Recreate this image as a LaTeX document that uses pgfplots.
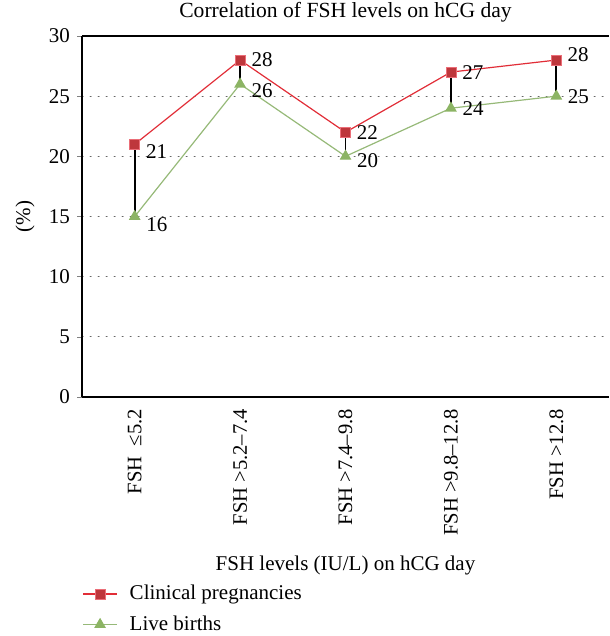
\documentclass[border=0pt]{standalone}
\usepackage{fontspec}
\setmainfont{Liberation Serif}
\usepackage{pgfplots}
\pgfplotsset{compat=1.18}
\usepackage{pgfplotstable}

\definecolor{cpline}{RGB}{225,45,55}
\definecolor{cpfill}{RGB}{190,55,60}
\definecolor{cpedge}{RGB}{235,110,120}
\definecolor{lbline}{RGB}{150,185,120}
\definecolor{lbfill}{RGB}{140,180,100}

\pgfplotstableread{
x y lab dy
0 21 21 -3.5
1 28 28 0
2 22 22 0
3 27 27 0
4 28 28 2.5
}\cp
\pgfplotstableread{
x y lab dy
0 15 16 -4
1 26 26 -3.5
2 20 20 -2
3 24 24 0
4 25 25 0
}\lb

\pgfplotsset{
  lbl/.style={
    nodes near coords,
    point meta=explicit symbolic,
    visualization depends on={\thisrow{dy} \as \dy},
    every node near coord/.append style={anchor=west, inner sep=0pt, xshift=5.5pt, yshift=\dy pt, font=\fontsize{10.5}{12}\selectfont, text=black},
  }
}

\begin{document}
\begin{tikzpicture}
\begin{axis}[
  name=ax,
  scale only axis, width=263.5pt, height=180.5pt,
  xmin=-0.5, xmax=4.5, ymin=0, ymax=30,
  ytick={0,5,...,30},
  xtick={0,...,4},
  xticklabels={FSH\ \ ≤5.2, FSH >5.2–7.4, FSH >7.4–9.8, FSH >9.8–12.8, FSH >12.8},
  x tick label style={rotate=90, anchor=east, font=\fontsize{10.3}{12}\selectfont},
  major x tick style={draw=none},
  y tick label style={font=\fontsize{10.5}{12}\selectfont},
  /pgf/number format/assume math mode=true,
  tick align=outside, major tick length=2.5pt,
  ymajorgrids, grid style={gray!80!black, line cap=round, dash pattern=on 0.6pt off 3.4pt},
  axis x line*=bottom, axis y line*=left,
  axis line style={line width=0.8pt, -},
  title={Correlation of FSH levels on hCG day},
  title style={at={(axis description cs:0.5,1)}, anchor=base, yshift=3pt, font=\fontsize{10.8}{13}\selectfont},
  ylabel={(\%)},
  ylabel style={at={(axis description cs:-0.108,0.5)}, anchor=center, rotate=0, font=\fontsize{10.5}{12}\selectfont},
  xlabel={FSH levels (IU/L) on hCG day},
  xlabel style={at={(axis description cs:0.5,-0.468)}, anchor=center, font=\fontsize{10.5}{12}\selectfont},
  legend style={at={(axis description cs:0.0,-0.498)}, anchor=north west, draw=none, fill=none,
    font=\fontsize{10.5}{12}\selectfont, row sep=2.5pt, inner xsep=0pt,
    /tikz/every odd column/.append style={column sep=4pt}},
  legend cell align=left,
]
\addplot[black, line width=0.9pt, forget plot] coordinates {(0,15) (0,21)};
\addplot[black, line width=0.9pt, forget plot] coordinates {(1,26) (1,28)};
\addplot[black, line width=0.9pt, forget plot] coordinates {(2,20) (2,22)};
\addplot[black, line width=0.9pt, forget plot] coordinates {(3,24) (3,27)};
\addplot[black, line width=0.9pt, forget plot] coordinates {(4,25) (4,28)};
\addplot[lbl, cpline, line width=0.6pt, mark=square*, mark size=2.5pt, mark options={fill=cpfill, draw=cpedge, line width=0.4pt}]
  table[x=x, y=y, meta=lab] {\cp};
\addlegendentry{Clinical pregnancies}
\addplot[lbl, lbline, line width=0.6pt, mark=triangle*, mark size=2.8pt, mark options={fill=lbfill, draw=lbfill}]
  table[x=x, y=y, meta=lab] {\lb};
\addlegendentry{Live births}
\draw[line width=0.8pt] (rel axis cs:0,1) -- (rel axis cs:1,1);
\coordinate (BL) at (rel axis cs:-0.1556,-0.662);
\coordinate (TR) at (rel axis cs:1,1.0997);
\end{axis}
\pgfresetboundingbox
\useasboundingbox (BL) rectangle (TR);
\end{tikzpicture}
\end{document}
